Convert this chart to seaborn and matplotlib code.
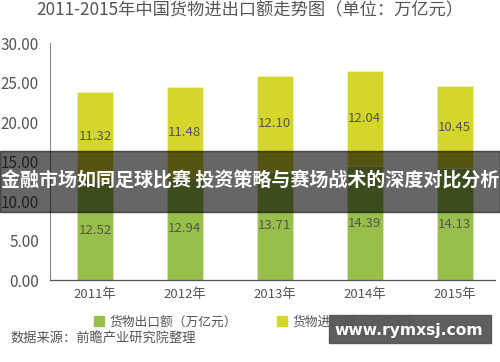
import matplotlib
matplotlib.use("Agg")
import matplotlib.pyplot as plt
from matplotlib.patches import Rectangle
from matplotlib.lines import Line2D
import seaborn as sns
import pandas as pd

sns.set_theme(style="white")
plt.rcParams['font.family'] = ['Noto Sans CJK SC', 'DejaVu Sans']

# data
years = ["2011年", "2012年", "2013年", "2014年", "2015年"]
export_vals = [12.52, 12.94, 13.71, 14.39, 14.13]
import_vals = [11.32, 11.48, 12.10, 12.04, 10.45]
export_name = "货物出口额（万亿元）"
import_name = "货物进口额（万亿元）"

green = "#97bf4a"
yellow = "#d5d62b"
text_gray = "#555555"

df = pd.DataFrame({"year": years, "export": export_vals, "import": import_vals})
df["total"] = df["export"] + df["import"]

fig = plt.figure(figsize=(5, 3.62), dpi=100)
ax = fig.add_axes([0.1, 0.2265, 0.89, 0.6545])

# stacked: draw the total in yellow, then the export part in green on top
sns.barplot(data=df, x="year", y="total", color=yellow, width=0.4,
            saturation=1, ax=ax, edgecolor="#eef0b0", linewidth=0.6)
sns.barplot(data=df, x="year", y="export", color=green, width=0.4,
            saturation=1, ax=ax, edgecolor="#d8e8b8", linewidth=0.6)

# labels in the middle of each segment
yellow_bars = ax.containers[0]
green_bars = ax.containers[1]
for bar, v, e in zip(yellow_bars, import_vals, export_vals):
    ax.text(bar.get_x() + bar.get_width() / 2, e + v / 2, f"{v:.2f}",
            ha="center", va="center", fontsize=9.5, color=text_gray)
for bar, e in zip(green_bars, export_vals):
    ax.text(bar.get_x() + bar.get_width() / 2, e / 2, f"{e:.2f}",
            ha="center", va="center", fontsize=9.5, color=text_gray)

ax.set_ylim(0, 30)
ax.set_xlim(-0.5, 4.45)
ax.set_yticks([0, 5, 10, 15, 20, 25, 30])
ax.set_yticklabels([f"{t:.2f}" for t in [0, 5, 10, 15, 20, 25, 30]])
ax.set_xlabel("")
ax.set_ylabel("")
ax.tick_params(axis="y", labelsize=11, colors=text_gray, length=0, pad=8)
ax.tick_params(axis="x", labelsize=9.5, colors=text_gray, length=0, pad=6)
for s in ["top", "right"]:
    ax.spines[s].set_visible(False)
ax.spines["left"].set_color("#888888")
ax.spines["left"].set_linewidth(0.8)
ax.spines["bottom"].set_color("#555555")
ax.spines["bottom"].set_linewidth(0.9)

fig.text(0.5, 0.972, "2011-2015年中国货物进出口额走势图（单位：万亿元）",
         ha="center", va="center", fontsize=12.4, color=text_gray)

handles = [Line2D([], [], marker="s", linestyle="", color=green, markersize=6.5),
           Line2D([], [], marker="s", linestyle="", color=yellow, markersize=6.5)]
fig.legend(handles, [export_name, import_name], loc="center",
           bbox_to_anchor=(0.514, 0.11), ncol=2, frameon=False, fontsize=9.2,
           handlelength=0.8, handletextpad=0.4, columnspacing=3.1,
           labelcolor=text_gray)

fig.text(0.02, 0.062, "数据来源：前瞻产业研究院整理", ha="left", va="center",
         fontsize=9.5, color=text_gray)

# dark banner across the middle
fig.add_artist(Rectangle((0, 0.414), 1, 0.169, transform=fig.transFigure,
                         color="black", alpha=0.6, zorder=10))
fig.text(0.5, 0.5, "金融市场如同足球比赛 投资策略与赛场战术的深度对比分析",
         ha="center", va="center", fontsize=13.7, color="white",
         fontweight="bold", zorder=11)

# watermark box
fig.add_artist(Rectangle((0.658, 0.0525), 0.324, 0.0773, transform=fig.transFigure,
                         color="#555555", alpha=0.95, zorder=10))
fig.text(0.818, 0.088, "www.rymxsj.com", ha="center", va="center",
         fontsize=11.2, color="white", fontweight="bold", zorder=11,
         family=["DejaVu Sans"])

fig.savefig("out.png", dpi=100)
